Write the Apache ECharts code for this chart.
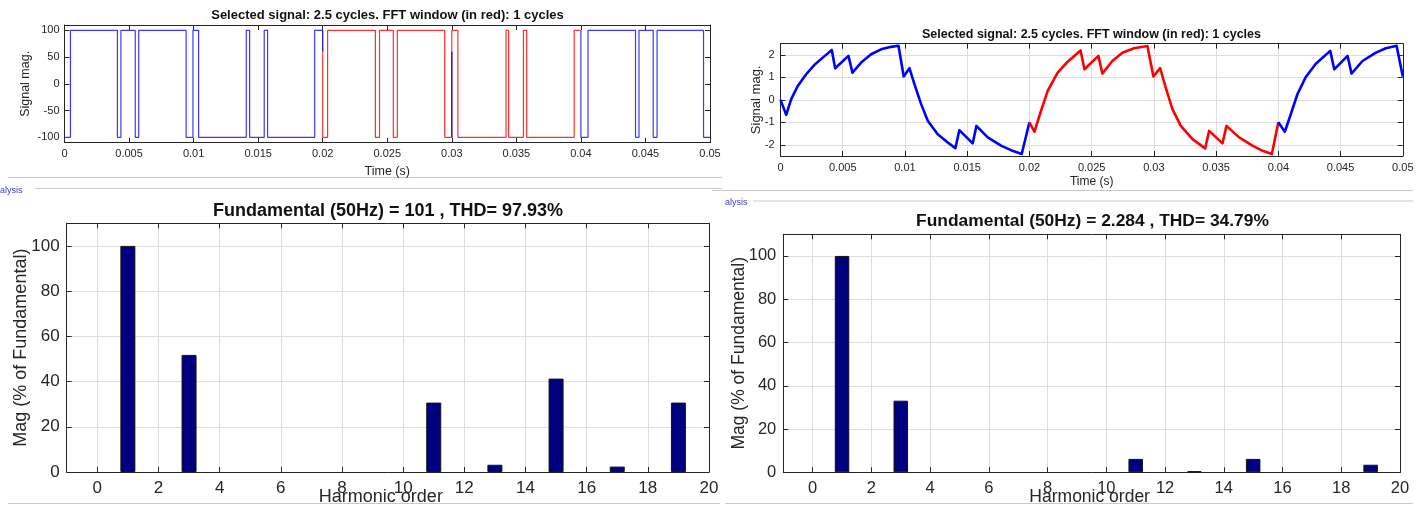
<!DOCTYPE html>
<html>
<head>
<meta charset="utf-8">
<title>FFT analysis</title>
<script src="https://cdn.jsdelivr.net/npm/echarts@6/dist/echarts.min.js"></script>
<style>
  html, body { margin: 0; padding: 0; background: #fff; }
  #chart { width: 1426px; height: 507px; }
</style>
</head>
<body>
<div id="chart"></div>
<script>
// ---- data ----

// top left: inverter voltage, steps [time, level] (level holds until next point)
const voltBlueA = [[0, -100], [0.00046, 100], [0.0041, -100], [0.00437, 100], [0.00548, -100], [0.00575, 100],
  [0.00942, -100], [0.00995, 100], [0.01039, -100], [0.01408, 100], [0.01434, -100], [0.01547, 100],
  [0.01573, -100], [0.01938, 100], [0.02, 100]];
const voltRed = [[0.02, 60], [0.02, -100], [0.02038, 100], [0.02408, -100], [0.0244, 100], [0.02547, -100],
  [0.02578, 100], [0.02945, -100], [0.03, 100], [0.03047, -100], [0.0342, 100], [0.0344, -100],
  [0.03555, 100], [0.0358, -100], [0.03948, 100], [0.04, 100]];
const voltBlueB = [[0.04, 100], [0.04, -100], [0.04055, 100], [0.04423, -100], [0.0445, 100], [0.0456, -100],
  [0.0459, 100], [0.0495, -100], [0.05, -100]];
// dark stubs where the FFT window starts
const stubA = [[0.02, 100], [0.02, 60]];
const stubB = [[0.03, 60], [0.03, -100]];

// top right: load current [time, value]
const curBlueA = [[0, 0], [0.00046, -0.67], [0.00086, 0.03], [0.00139, 0.62], [0.00206, 1.14], [0.00273, 1.56],
  [0.0034, 1.88], [0.00412, 2.22], [0.00439, 1.41], [0.00546, 1.96], [0.00578, 1.21], [0.00648, 1.66],
  [0.00728, 2.03], [0.00808, 2.25], [0.00889, 2.36], [0.00948, 2.41], [0.0099, 1.04], [0.01036, 1.41],
  [0.01076, 0.70], [0.0113, -0.19], [0.01183, -0.93], [0.01263, -1.53], [0.01344, -1.90], [0.01405, -2.15],
  [0.01437, -1.35], [0.01544, -1.94], [0.01574, -1.16], [0.01665, -1.67], [0.01772, -2.04], [0.01852, -2.24],
  [0.01938, -2.41], [0.02, -1.0]];
const curRed = [[0.02, -1.0], [0.0204, -1.42], [0.02093, -0.49], [0.02147, 0.40], [0.02227, 1.21], [0.02307, 1.70],
  [0.02411, 2.20], [0.02442, 1.36], [0.02554, 1.96], [0.02586, 1.17], [0.02666, 1.73], [0.02747, 2.10],
  [0.0284, 2.30], [0.02948, 2.40], [0.02996, 1.04], [0.0305, 1.41], [0.03095, 0.55], [0.03149, -0.41],
  [0.03216, -1.16], [0.0331, -1.75], [0.03412, -2.16], [0.03444, -1.38], [0.03551, -1.94], [0.03583, -1.16],
  [0.03685, -1.67], [0.03792, -2.04], [0.03873, -2.27], [0.03948, -2.41], [0.04, -1.0]];
const curBlueB = [[0.04, -1.0], [0.04052, -1.42], [0.041, -0.64], [0.04153, 0.25], [0.04221, 1.02], [0.04301, 1.61],
  [0.04417, 2.18], [0.04449, 1.36], [0.04556, 1.96], [0.04588, 1.17], [0.04676, 1.73], [0.04784, 2.10],
  [0.04864, 2.30], [0.0495, 2.41], [0.05, 1.04]];

// bottom: harmonic spectra (% of fundamental)
const harmonics = [0, 1, 2, 3, 4, 5, 6, 7, 8, 9, 10, 11, 12, 13, 14, 15, 16, 17, 18, 19, 20];
const magVolt = [0, 100, 0, 51.8, 0, 0, 0, 0, 0, 0, 0, 30.7, 0, 3.2, 0, 41.3, 0, 2.4, 0, 30.7, 0];
const magCur = [0, 100, 0, 33.1, 0, 0, 0, 0, 0, 0, 0, 6.2, 0, 0.5, 0, 6.2, 0, 0, 0, 3.5, 0];

const titleSignal = 'Selected signal: 2.5 cycles. FFT window (in red): 1 cycles';
const titleVolt = 'Fundamental (50Hz) = 101 , THD= 97.93%';
const titleCur = 'Fundamental (50Hz) = 2.284 , THD= 34.79%';

// ---- chart ----
const FONT = '"Liberation Sans", Arial, Helvetica, sans-serif';
const AX = '#262626';
const GRIDC = '#dedede';

const chart = echarts.init(document.getElementById('chart'), null, { renderer: 'canvas' });

// zero-height bars are left out (matlab draws nothing there)
function pairs(xs, ys) {
  return xs.map((x, i) => [x, ys[i] === 0 ? '-' : ys[i]]);
}

// bottom/left axis with labels, top/right axis only for the inward ticks (matlab box)
function mainX(gi, o) {
  return {
    gridIndex: gi, type: 'value', position: 'bottom', min: o.min, max: o.max,
    interval: o.interval, splitNumber: o.split,
    axisLine: { show: true, onZero: false, lineStyle: { color: AX, width: 1 } },
    axisTick: { show: true, inside: true, length: 5, lineStyle: { color: AX } },
    axisLabel: { show: true, color: AX, fontSize: o.fs, fontFamily: FONT, margin: o.margin,
      showMinLabel: o.showMin, showMaxLabel: true },
    splitLine: { show: o.grid, lineStyle: { color: GRIDC, width: 1 } },
    name: o.name, nameLocation: 'middle', nameGap: o.nameGap, nameMoveOverlap: false,
    nameTextStyle: { color: AX, fontSize: o.nameFs, fontFamily: FONT, padding: o.namePad || 0 }
  };
}
function boxX(gi, o) {
  return {
    gridIndex: gi, type: 'value', position: 'top', min: o.min, max: o.max,
    interval: o.interval, splitNumber: o.split,
    axisLine: { show: true, onZero: false, lineStyle: { color: AX, width: 1 } },
    axisTick: { show: true, inside: true, length: 5, lineStyle: { color: AX } },
    axisLabel: { show: false }, splitLine: { show: false }
  };
}
function mainY(gi, o) {
  return {
    gridIndex: gi, type: 'value', position: 'left', min: o.min, max: o.max,
    interval: o.interval, splitNumber: o.split,
    axisLine: { show: true, onZero: false, lineStyle: { color: AX, width: 1 } },
    axisTick: { show: true, inside: true, length: 5, lineStyle: { color: AX } },
    axisLabel: { show: true, color: AX, fontSize: o.fs, fontFamily: FONT, margin: o.margin,
      showMinLabel: o.showMin, showMaxLabel: false },
    splitLine: { show: o.grid, lineStyle: { color: GRIDC, width: 1 } },
    name: o.name, nameLocation: 'middle', nameGap: o.nameGap, nameRotate: 90, nameMoveOverlap: false,
    nameTextStyle: { color: AX, fontSize: o.nameFs, fontFamily: FONT }
  };
}
function boxY(gi, o) {
  return {
    gridIndex: gi, type: 'value', position: 'right', min: o.min, max: o.max,
    interval: o.interval, splitNumber: o.split,
    axisLine: { show: true, onZero: false, lineStyle: { color: AX, width: 1 } },
    axisTick: { show: true, inside: true, length: 5, lineStyle: { color: AX } },
    axisLabel: { show: false }, splitLine: { show: false }
  };
}

const tlX = { min: 0, max: 0.05, interval: 0.005, fs: 11, margin: 6, showMin: true, grid: false,
  name: 'Time (s)', nameGap: 22, nameFs: 12.5 };
const tlY = { min: -110, max: 110, split: 5, fs: 11, margin: 5, showMin: false, grid: false,
  name: 'Signal mag.', nameGap: 32, nameFs: 12.5 };
const trX = { min: 0, max: 0.05, interval: 0.005, fs: 11, margin: 6, showMin: true, grid: true,
  name: 'Time (s)', nameGap: 20, nameFs: 12 };
const trY = { min: -2.5, max: 2.5, split: 5, fs: 11, margin: 6, showMin: false, grid: true,
  name: 'Signal mag.', nameGap: 18, nameFs: 13 };
const blX = { min: -1, max: 20, split: 10, fs: 17, margin: 8, showMin: false, grid: true,
  name: 'Harmonic order', nameGap: 16, nameFs: 18, namePad: [0, 14, 0, 0] };
const blY = { min: 0, max: 110, split: 5, fs: 17, margin: 7, showMin: true, grid: true,
  name: 'Mag (% of Fundamental)', nameGap: 37, nameFs: 18 };
const brX = { min: -1, max: 20, split: 10, fs: 16.5, margin: 8, showMin: false, grid: true,
  name: 'Harmonic order', nameGap: 16, nameFs: 17.5, namePad: [0, 4, 0, 0] };
const brY = { min: 0, max: 110, split: 5, fs: 16.5, margin: 7, showMin: true, grid: true,
  name: 'Mag (% of Fundamental)', nameGap: 35, nameFs: 17.5 };

function titleAt(text, x, y, fs) {
  return { text: text, left: x, top: y, textAlign: 'center', padding: 0,
    textStyle: { fontSize: fs, fontWeight: 'bold', color: '#111', fontFamily: FONT } };
}

function stepLine(name, xi, data, color, width) {
  return { name: name, type: 'line', xAxisIndex: xi, yAxisIndex: xi, data: data, step: 'end',
    showSymbol: false, silent: true, lineStyle: { color: color, width: width } };
}
function curveLine(name, xi, data, color) {
  return { name: name, type: 'line', xAxisIndex: xi, yAxisIndex: xi, data: data,
    showSymbol: false, silent: true, lineStyle: { color: color, width: 2.6, join: 'round' } };
}
function bars(name, xi, data, w) {
  return { name: name, type: 'bar', xAxisIndex: xi, yAxisIndex: xi, data: data, barWidth: w,
    silent: true, itemStyle: { color: '#000080', borderColor: '#141414', borderWidth: 1 } };
}

const sepColor = '#c9c9c9';
function hline(x1, x2, y) {
  return { type: 'line', shape: { x1: x1, y1: y, x2: x2, y2: y }, style: { stroke: sepColor, lineWidth: 1 }, silent: true };
}

const option = {
  backgroundColor: '#ffffff',
  animation: false,
  title: [
    titleAt(titleSignal, 387.5, 8.5, 13),
    titleAt(titleSignal, 1091.5, 28, 12.5),
    titleAt(titleVolt, 388, 202, 18),
    titleAt(titleCur, 1092.5, 213, 17.4)
  ],
  grid: [
    { left: 64.5, top: 25, width: 645.5, height: 117.7, outerBoundsMode: 'none' },
    { left: 780.5, top: 43.7, width: 622.3, height: 112.3, outerBoundsMode: 'none' },
    { left: 66.7, top: 223.3, width: 642.3, height: 248.7, outerBoundsMode: 'none' },
    { left: 783.3, top: 234.3, width: 616.7, height: 238, outerBoundsMode: 'none' }
  ],
  xAxis: [mainX(0, tlX), mainX(1, trX), mainX(2, blX), mainX(3, brX),
    boxX(0, tlX), boxX(1, trX), boxX(2, blX), boxX(3, brX)],
  yAxis: [mainY(0, tlY), mainY(1, trY), mainY(2, blY), mainY(3, brY),
    boxY(0, tlY), boxY(1, trY), boxY(2, blY), boxY(3, brY)],
  series: [
    stepLine('v1', 0, voltBlueA, '#3838ff', 1.2),
    stepLine('v2', 0, voltRed, '#ff3030', 1.2),
    stepLine('v3', 0, voltBlueB, '#3838ff', 1.2),
    stepLine('s1', 0, stubA, '#1c1c9c', 1.3),
    stepLine('s2', 0, stubB, '#1c1c9c', 1.3),
    curveLine('i1', 1, curBlueA, '#0000ff'),
    curveLine('i2', 1, curRed, '#ff0000'),
    curveLine('i3', 1, curBlueB, '#0000ff'),
    bars('hv', 2, pairs(harmonics, magVolt), 15),
    bars('hi', 3, pairs(harmonics, magCur), 14.5)
  ],
  graphic: [
    hline(8, 722, 177.5),
    hline(35, 722, 188.5),
    hline(712, 1413, 190.5),
    hline(753, 1413, 201),
    hline(8, 720, 503.5),
    hline(725, 1413, 503.5),
    { type: 'text', left: 0, top: 186, silent: true,
      style: { text: 'alysis', fill: '#3b3bd6', font: '9px ' + FONT } },
    { type: 'text', left: 725, top: 198.5, silent: true,
      style: { text: 'alysis', fill: '#3b3bd6', font: '9px ' + FONT } }
  ]
};

chart.setOption(option);
</script>
</body>
</html>
